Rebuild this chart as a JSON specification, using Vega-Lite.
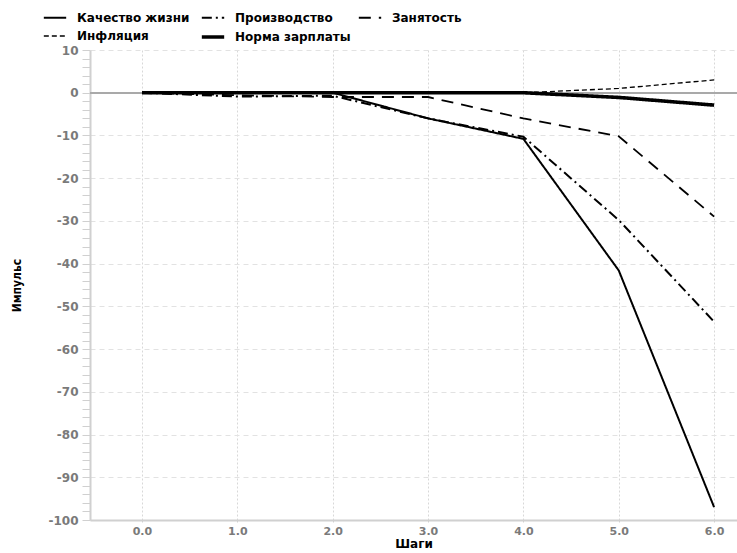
{
  "$schema": "https://vega.github.io/schema/vega-lite/v6.json",
  "autosize": {"type": "none"},
  "padding": {"left": 90, "top": 50, "right": 0, "bottom": 33},
  "width": 647,
  "height": 470,
  "background": "white",
  "data": {"values": [
    {"step": 0, "series": "Качество жизни", "value": 0},
    {"step": 1, "series": "Качество жизни", "value": 0},
    {"step": 2, "series": "Качество жизни", "value": 0},
    {"step": 3, "series": "Качество жизни", "value": -6},
    {"step": 4, "series": "Качество жизни", "value": -10.8},
    {"step": 5, "series": "Качество жизни", "value": -41.6},
    {"step": 6, "series": "Качество жизни", "value": -97},
    {"step": 0, "series": "Производство", "value": 0},
    {"step": 1, "series": "Производство", "value": -0.9},
    {"step": 2, "series": "Производство", "value": -0.7},
    {"step": 3, "series": "Производство", "value": -6},
    {"step": 4, "series": "Производство", "value": -10.3},
    {"step": 5, "series": "Производство", "value": -29.8},
    {"step": 6, "series": "Производство", "value": -53.6},
    {"step": 0, "series": "Занятость", "value": 0},
    {"step": 1, "series": "Занятость", "value": -0.6},
    {"step": 2, "series": "Занятость", "value": -1},
    {"step": 3, "series": "Занятость", "value": -1},
    {"step": 4, "series": "Занятость", "value": -6},
    {"step": 5, "series": "Занятость", "value": -10.2},
    {"step": 6, "series": "Занятость", "value": -29},
    {"step": 0, "series": "Инфляция", "value": 0},
    {"step": 1, "series": "Инфляция", "value": 0},
    {"step": 2, "series": "Инфляция", "value": 0},
    {"step": 3, "series": "Инфляция", "value": 0},
    {"step": 4, "series": "Инфляция", "value": 0},
    {"step": 5, "series": "Инфляция", "value": 1},
    {"step": 6, "series": "Инфляция", "value": 3},
    {"step": 0, "series": "Норма зарплаты", "value": 0},
    {"step": 1, "series": "Норма зарплаты", "value": 0},
    {"step": 2, "series": "Норма зарплаты", "value": 0},
    {"step": 3, "series": "Норма зарплаты", "value": 0},
    {"step": 4, "series": "Норма зарплаты", "value": 0},
    {"step": 5, "series": "Норма зарплаты", "value": -1.1},
    {"step": 6, "series": "Норма зарплаты", "value": -2.9}
  ]},
  "config": {
    "view": {"stroke": null},
    "axis": {
      "labelFont": "DejaVu Sans",
      "labelFontWeight": "bold",
      "labelColor": "#7a7a7a",
      "labelFontSize": 12,
      "labelOverlap": false,
      "domainColor": "#d0d0d0",
      "domainWidth": 2,
      "tickColor": "#d0d0d0",
      "titleColor": "black"
    },
    "legend": {
      "title": null,
      "orient": "none",
      "legendX": -48,
      "legendY": -45,
      "columns": 3,
      "direction": "horizontal",
      "symbolType": "stroke",
      "symbolSize": 500,
      "symbolStrokeColor": "black",
      "labelFont": "DejaVu Sans",
      "labelFontWeight": "bold",
      "labelFontSize": 12,
      "labelColor": "black",
      "columnPadding": 4,
      "rowPadding": 0,
      "labelOffset": 9
    }
  },
  "resolve": {"axis": {"y": "independent"}},
  "layer": [
    {
      "mark": {"type": "rule", "color": "#aaaaaa", "strokeWidth": 1},
      "encoding": {"y": {"datum": 0, "type": "quantitative", "axis": null}}
    },
    {
      "mark": {"type": "line", "color": "black", "clip": true},
      "encoding": {
        "x": {
          "field": "step", "type": "quantitative",
          "scale": {"domain": [-0.545, 6.24], "nice": false, "zero": false},
          "axis": {
            "values": [0, 1, 2, 3, 4, 5, 6],
            "format": ".1f",
            "title": "Шаги",
            "titleFont": "DejaVu Sans",
            "titleFontWeight": "bold",
            "titleFontSize": 12,
            "titleColor": "black",
            "titlePadding": 2,
            "labelFontSize": 11,
            "labelPadding": 2,
            "tickSize": 3,
            "tickDash": [2, 2],
            "grid": true,
            "gridColor": "#d8d8d8",
            "gridDash": [2, 2],
            "gridWidth": 1
          }
        },
        "y": {
          "field": "value", "type": "quantitative",
          "scale": {"domain": [-100, 10], "nice": false},
          "axis": {
            "values": [-100, -98, -96, -94, -92, -90, -88, -86, -84, -82, -80, -78, -76, -74, -72, -70, -68, -66, -64, -62, -60, -58, -56, -54, -52, -50, -48, -46, -44, -42, -40, -38, -36, -34, -32, -30, -28, -26, -24, -22, -20, -18, -16, -14, -12, -10, -8, -6, -4, -2, 0, 2, 4, 6, 8, 10],
            "labelExpr": "datum.value % 10 === 0 ? '' + datum.value : ''",
            "title": "Импульс",
            "titleFont": "DejaVu Sans Condensed",
            "titleFontWeight": "bold",
            "titleFontSize": 12,
            "titlePadding": 24,
            "labelPadding": 4,
            "tickSize": 8,
            "grid": true,
            "gridColor": "#e2e2e2",
            "gridDash": [5, 4],
            "gridOpacity": {"condition": {"test": "datum.value % 10 === 0", "value": 1}, "value": 0}
          }
        },
        "detail": {"field": "series"},
        "strokeDash": {
          "field": "series", "type": "nominal",
          "scale": {
            "domain": ["Качество жизни", "Производство", "Занятость", "Инфляция", "Норма зарплаты"],
            "range": [[1, 0], [10, 4, 2, 4], [12, 8], [5, 3], [1, 0]]
          },
          "legend": {"title": null}
        },
        "strokeWidth": {
          "field": "series", "type": "nominal",
          "scale": {
            "type": "ordinal",
            "domain": ["Качество жизни", "Производство", "Занятость", "Инфляция", "Норма зарплаты"],
            "range": [2, 2, 1.8, 1.3, 3.6]
          },
          "legend": {"title": null}
        }
      }
    }
  ]
}
